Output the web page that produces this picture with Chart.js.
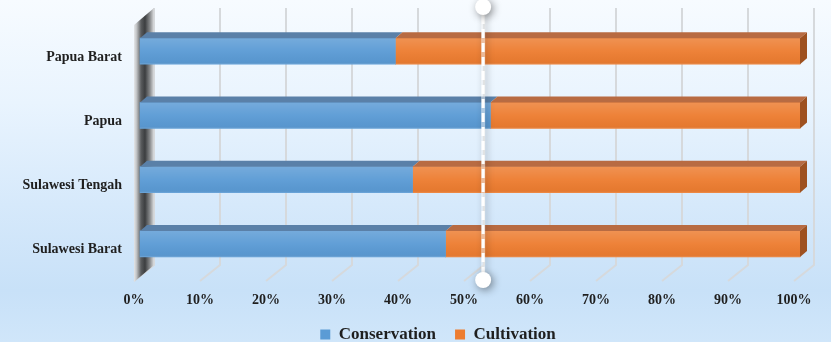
<!DOCTYPE html>
<html><head><meta charset="utf-8">
<script src="https://cdn.jsdelivr.net/npm/chart.js@4.4.0/dist/chart.umd.min.js"></script>
<style>
html,body{margin:0;padding:0;background:#fff;}
#wrap{width:831px;height:342px;background:linear-gradient(to bottom,#f7fbff 0%,#e9f4fe 30%,#d6e9fb 60%,#c8e1f8 85%,#d0e6fa 100%);}
canvas{display:block;}
</style></head><body>
<div id="wrap"><canvas id="c" width="831" height="342"></canvas></div>
<script>
const categories = ['Papua Barat', 'Papua', 'Sulawesi Tengah', 'Sulawesi Barat'];
const conservation = [38.7, 53.1, 41.3, 46.3];
const cultivation = [61.3, 46.9, 58.7, 53.7];
const xTickLabels = ['0%', '10%', '20%', '30%', '40%', '50%', '60%', '70%', '80%', '90%', '100%'];
const seriesNames = ['Conservation', 'Cultivation'];
const markerValue = 52.9;

const frontColors = ['#5b9bd5', '#ed7d31'];
const topColors = ['#5a80a8', '#b86b42'];
const sideColors = ['#44709c', '#9e5120'];
const WALL = { dx: 20, dy: -17 };
const BAR = { dx: 6, dy: -6, tdx: 7, tdy: -6 };
const AREA_BOTTOM = 282;
const LEGEND_H = 28;
const LEGEND_SHIFT = { x: 41, y: -7 };
const FONT = 'Liberation Serif';

const threeD = {
  id: 'threeD',
  afterLayout(chart) {
    const l = chart.legend;
    if (l) { l.top += LEGEND_SHIFT.y; l.left += LEGEND_SHIFT.x; l.right += LEGEND_SHIFT.x; }
  },
  beforeDatasetsDraw(chart) {
    const { ctx, chartArea: a, scales: { x } } = chart;
    ctx.save();
    ctx.strokeStyle = '#d6d9dc';
    ctx.lineWidth = 2;
    x.ticks.forEach(t => {
      const px = x.getPixelForValue(t.value);
      ctx.beginPath();
      ctx.moveTo(px + WALL.dx, a.top + WALL.dy);
      ctx.lineTo(px + WALL.dx, a.bottom + WALL.dy);
      ctx.lineTo(px, a.bottom - 1);
      ctx.stroke();
    });
    const lx = a.left;
    const g = ctx.createLinearGradient(lx, 0, lx + WALL.dx, 0);
    g.addColorStop(0, '#e4e6e8');
    g.addColorStop(0.12, '#c4c6c8');
    g.addColorStop(0.35, '#5a5c5e');
    g.addColorStop(0.55, '#3c3e40');
    g.addColorStop(0.8, '#8a8c8e');
    g.addColorStop(1, '#dcdee0');
    ctx.fillStyle = g;
    ctx.beginPath();
    ctx.moveTo(lx, a.top);
    ctx.lineTo(lx + WALL.dx, a.top + WALL.dy);
    ctx.lineTo(lx + WALL.dx, a.bottom + WALL.dy);
    ctx.lineTo(lx, a.bottom);
    ctx.closePath();
    ctx.fill();
    ctx.translate(BAR.dx, BAR.dy);
  },
  afterDatasetsDraw(chart) {
    const { ctx, chartArea: a, scales: { x } } = chart;
    const metas = chart.getSortedVisibleDatasetMetas();
    metas.forEach((meta, di) => {
      meta.data.forEach(bar => {
        const p = bar.getProps(['x', 'base', 'y', 'height'], true);
        const x1 = Math.min(p.base, p.x), x2 = Math.max(p.base, p.x);
        const top = p.y - p.height / 2, bot = p.y + p.height / 2;
        const lg = ctx.createLinearGradient(0, top, 0, bot);
        lg.addColorStop(0, 'rgba(255,255,255,0.16)');
        lg.addColorStop(0.5, 'rgba(255,255,255,0.04)');
        lg.addColorStop(0.92, 'rgba(0,0,0,0.03)');
        lg.addColorStop(1, 'rgba(255,255,255,0.15)');
        ctx.fillStyle = lg;
        ctx.fillRect(x1, top, x2 - x1, bot - top);
        ctx.fillStyle = topColors[meta.index];
        ctx.beginPath();
        ctx.moveTo(x1, top);
        ctx.lineTo(x1 + BAR.tdx, top + BAR.tdy);
        ctx.lineTo(x2 + BAR.tdx, top + BAR.tdy);
        ctx.lineTo(x2, top);
        ctx.closePath();
        ctx.fill();
        if (di === metas.length - 1) {
          ctx.fillStyle = sideColors[meta.index];
          ctx.beginPath();
          ctx.moveTo(x2, top);
          ctx.lineTo(x2 + BAR.tdx, top + BAR.tdy);
          ctx.lineTo(x2 + BAR.tdx, bot + BAR.tdy);
          ctx.lineTo(x2, bot);
          ctx.closePath();
          ctx.fill();
        }
      });
    });
    ctx.restore();
    const mx = x.getPixelForValue(markerValue);
    const y1 = a.top - 18, y2 = a.bottom - 2;
    ctx.save();
    ctx.shadowColor = 'rgba(0,0,0,0.45)';
    ctx.shadowBlur = 7;
    ctx.shadowOffsetX = 2;
    ctx.shadowOffsetY = 1;
    ctx.strokeStyle = 'rgba(255,255,255,0.5)';
    ctx.lineWidth = 4;
    ctx.beginPath(); ctx.moveTo(mx, y1); ctx.lineTo(mx, y2); ctx.stroke();
    ctx.shadowColor = 'transparent';
    ctx.setLineDash([9, 5]);
    ctx.strokeStyle = '#ffffff';
    ctx.lineWidth = 3;
    ctx.beginPath(); ctx.moveTo(mx, y1 + 8); ctx.lineTo(mx, y2 - 6); ctx.stroke();
    ctx.setLineDash([]);
    ctx.shadowColor = 'rgba(0,0,0,0.45)';
    ctx.shadowBlur = 8;
    ctx.shadowOffsetX = 2;
    ctx.shadowOffsetY = 2;
    ctx.fillStyle = '#ffffff';
    [y1, y2].forEach(cy => { ctx.beginPath(); ctx.arc(mx, cy, 8, 0, Math.PI * 2); ctx.fill(); });
    ctx.restore();
  }
};

new Chart(document.getElementById('c'), {
  type: 'bar',
  data: {
    labels: categories,
    datasets: [
      { label: seriesNames[0], data: conservation, backgroundColor: frontColors[0], borderWidth: 0, clip: false },
      { label: seriesNames[1], data: cultivation, backgroundColor: frontColors[1], borderWidth: 0, clip: false }
    ]
  },
  options: {
    indexAxis: 'y',
    responsive: false,
    devicePixelRatio: 1,
    animation: false,
    layout: { padding: { top: 25, right: 37, left: 0, bottom: 0 } },
    datasets: { bar: { barThickness: 26 } },
    scales: {
      x: {
        stacked: true, min: 0, max: 100,
        grid: { display: false, drawTicks: false },
        border: { display: false },
        ticks: {
          stepSize: 10, maxRotation: 0, autoSkip: false, padding: 10, color: '#1f1f1f',
          font: { family: FONT, weight: 'bold', size: 14 },
          callback: v => xTickLabels[Math.round(v / 10)]
        },
        afterFit(s) { const lg = s.chart.legend; s.height = s.chart.height - AREA_BOTTOM - (lg ? lg.height : 0); }
      },
      y: {
        stacked: true,
        grid: { display: false, drawTicks: false },
        border: { display: false },
        ticks: { padding: 12, color: '#1f1f1f', font: { family: FONT, weight: 'bold', size: 14 } },
        afterFit(s) { s.width = 134; }
      }
    },
    plugins: {
      tooltip: { enabled: false },
      legend: {
        position: 'bottom',
        maxHeight: LEGEND_H,
        labels: { boxWidth: 10, boxHeight: 10, padding: 19, color: '#1f1f1f', font: { family: FONT, weight: 'bold', size: 17 } }
      }
    }
  },
  plugins: [threeD]
});
</script>
</body></html>
